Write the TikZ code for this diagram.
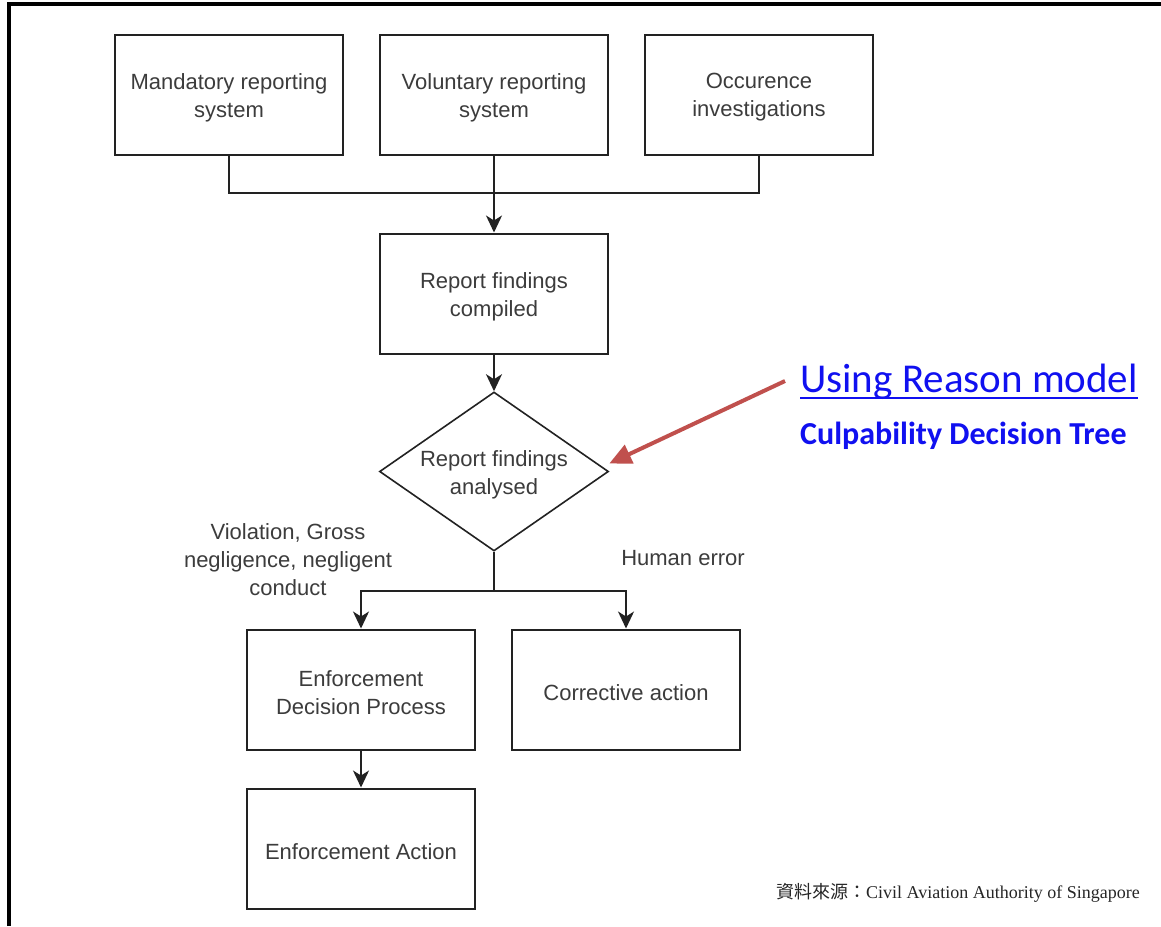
\documentclass[tikz,border=0pt]{standalone}
\usepackage{fontspec}
\setmainfont{Liberation Sans}
\newfontfamily\calibrifont{Carlito}
\newfontfamily\timesfont{Liberation Serif}
\newfontfamily\cjkfont{Noto Sans CJK TC}
\usetikzlibrary{arrows.meta,shapes.geometric,calc}
\definecolor{boxline}{HTML}{222222}
\definecolor{boxtext}{HTML}{3C3C3C}
\definecolor{linkblue}{HTML}{1010F0}
\definecolor{notered}{HTML}{C0504D}
\tikzset{
  flowbox/.style={draw=boxline, line width=2pt, rectangle, inner sep=0pt,
    minimum width=228pt, minimum height=120pt},
  decision/.style={draw=boxline, line width=1.6pt, diamond, inner sep=0pt,
    minimum width=229pt, minimum height=159pt},
  plaintext/.style={inner sep=0pt, align=center, text=boxtext,
    font=\fontsize{22}{28}\selectfont},
  boxtext/.style={plaintext, yshift=-3pt},
  flow/.style={draw=boxline, line width=1.6pt},
  flowarrow/.style={flow, -{Stealth[length=17pt, width=16pt, inset=5pt]}},
  pointer/.style={draw=notered, line width=4pt,
    -{Triangle[length=22pt, width=20pt]}}
}
\begin{document}
\begin{tikzpicture}[x=1pt, y=-1pt]
  \useasboundingbox[fill=white] (0,0) rectangle (1161,926);
  % outer frame (left and top edges)
  \draw[line width=4pt, black] (9,926) -- (9,3.7) -- (1161,3.7);

  % sources
  \node[flowbox] (mand) at (229,94.5) {};
  \node[boxtext] (mandtext) at (mand.center) {Mandatory reporting\\system};
  \node[flowbox] (vol)  at (494,94.5) {};
  \node[boxtext] (voltext) at (vol.center) {Voluntary reporting\\system};
  \node[flowbox] (occ)  at (759,94.5) {};
  \node[boxtext] (occtext) at (occ.center) {Occurence\\investigations};

  % compilation and analysis
  \node[flowbox] (comp) at (494,293.5) {};
  \node[boxtext] (comptext) at (comp.center) {Report findings\\compiled};
  \node[decision] (ana) at (494,471.5) {};
  \node[boxtext] (anatext) at (ana.center) {Report findings\\analysed};

  % outcomes
  \node[flowbox] (edp) at (361,689.5) {};
  \node[boxtext] (edptext) at (edp.center) {Enforcement\\Decision Process};
  \node[flowbox] (corr) at (626,689.5) {};
  \node[boxtext] (corrtext) at (corr.center) {Corrective action};
  \node[flowbox] (eact) at (361,848.5) {};
  \node[boxtext] (eacttext) at (eact.center) {Enforcement Action};

  % branch labels
  \node[plaintext] (viol) at (288,560) {Violation, Gross\\negligence, negligent\\conduct};
  \node[plaintext] (human) at (683,558) {Human error};

  % connectors
  \coordinate (join) at (494,193);
  \coordinate (split) at (494,591);
  \draw[flow] (mand.south) |- (join);
  \draw[flow] (occ.south) |- (join);
  \draw[flowarrow] (vol.south) -- (comp.north);
  \draw[flowarrow] (comp.south) -- (ana.north);
  \draw[flow] (ana.south) -- (split);
  \draw[flowarrow] (split) -| (edp.north);
  \draw[flowarrow] (split) -| (corr.north);
  \draw[flowarrow] (edp.south) -- (eact.north);

  % annotation
  \node[inner sep=0pt, anchor=base west, text=linkblue,
        font=\calibrifont\fontsize{41}{48}\selectfont] (model) at (800,392) {Using Reason model};
  \draw[linkblue, line width=2pt] ($(model.base west)+(0,6)$) -- ($(model.base east)+(0,6)$);
  \node[inner sep=0pt, anchor=base west, text=linkblue,
        font=\calibrifont\bfseries\fontsize{32}{38}\selectfont] (tree) at (800,444) {Culpability Decision Tree};
  \coordinate (ptail) at (785,381);
  \draw[pointer] (ptail) -- ([yshift=8pt]ana.east);

  % source line
  \node[inner sep=0pt, anchor=base west, font=\fontsize{18}{22}\selectfont, text=black!85] (src) at (776,898)
    {{\cjkfont 資料來源：}{\timesfont Civil Aviation Authority of Singapore}};
\end{tikzpicture}
\end{document}
